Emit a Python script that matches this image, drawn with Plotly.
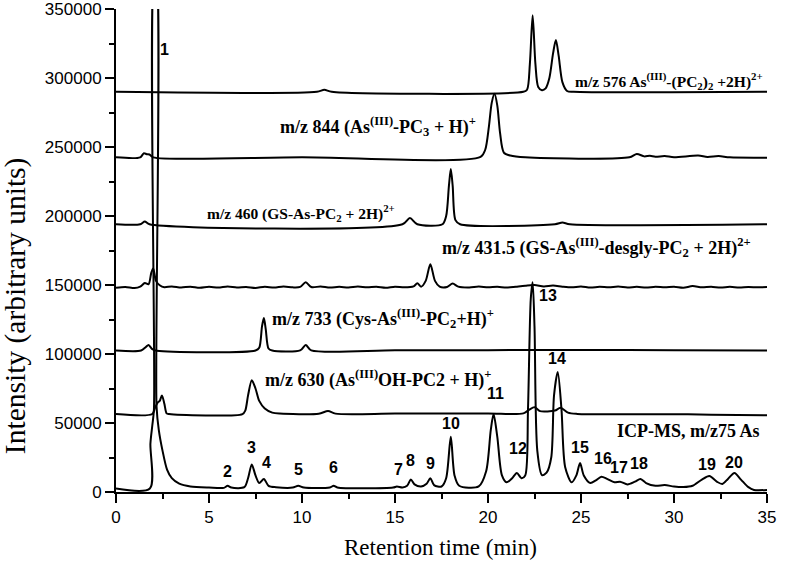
import plotly.graph_objects as go

# retention time (min) / intensity pairs
t_576 = [0, 10.8, 11.2, 11.6, 21.9, 22.1, 22.25, 22.4, 22.55, 22.7, 22.9, 23.1, 23.3, 23.5, 23.65, 23.8, 24.0, 24.25, 24.6, 35]
i_576 = [290000, 290000, 291500, 290000, 290000, 291500, 310000, 345500, 310000, 293500, 291200, 292500, 300000, 318000, 327500, 316000, 297000, 290600, 290000, 290000]

t_844 = [0, 1.3, 1.5, 1.65, 1.8, 2.0, 10.0, 19.6, 19.85, 20.05, 20.2, 20.35, 20.5, 20.65, 20.85, 21.2, 22.0, 27.6, 28.0, 28.4, 28.7, 29.0, 29.5, 30.0, 31.3, 31.8, 32.4, 33.0, 35]
i_844 = [242500, 242500, 245500, 244800, 244600, 242500, 242500, 242800, 248000, 265000, 282000, 288500, 280000, 260000, 246000, 243800, 242500, 242500, 245000, 243200, 243600, 243000, 243400, 242600, 243800, 242800, 243400, 242500, 242300]

t_460 = [0, 1.3, 1.55, 1.8, 15.4, 15.8, 16.2, 17.55, 17.75, 17.9, 18.0, 18.1, 18.25, 18.5, 23.6, 24.0, 24.4, 35]
i_460 = [194000, 194000, 196000, 194000, 194000, 198500, 194000, 194000, 200000, 222000, 234000, 222000, 197000, 194000, 194000, 195200, 194000, 194000]

t_431 = [0, 0.5, 1.0, 1.3, 1.55, 1.75, 1.9, 2.0, 2.15, 2.35, 2.6, 3.0, 3.5, 4.0, 4.5, 5.0, 5.5, 6.0, 6.5, 7.0, 7.5, 8.0, 8.5, 9.0, 9.5, 9.9,
         10.2, 10.5, 11.0, 11.5, 12.0, 12.5, 13.0, 13.5, 14.0, 14.5, 15.0, 15.5, 16.0, 16.2, 16.4, 16.65, 16.9, 17.15, 17.4, 17.8, 18.1, 18.4,
         19.0, 19.5, 20.0, 20.5, 21.0, 21.5, 22.0, 22.5, 23.0, 23.5, 24.0, 24.5, 25.0, 25.5, 26.0, 26.5, 27.0, 27.5, 28.0, 28.5, 29.0, 29.5,
         30.0, 30.5, 31.0, 31.5, 32.0, 32.5, 33.0, 33.5, 34.0, 34.5, 35]
i_431 = [148000, 148600, 147800, 148800, 151400, 150500, 159000, 162000, 153000, 149800, 148400, 149000, 148200, 148800, 148000, 148700, 148100, 148900,
         148200, 148600, 147900, 148700, 148100, 148900, 148300, 148600, 152000, 148500, 148900, 148100, 148700, 148200, 148900, 148300, 148700,
         148000, 148800, 148300, 149000, 151200, 148800, 153000, 165000, 153000, 148800, 148600, 151000, 148800, 148200, 148900, 148300, 148700,
         148100, 148800, 149500, 150000, 149000, 149600, 148800, 148300, 148900, 148100, 148700, 148300, 148900, 148200, 148700, 148100, 148800,
         148300, 148700, 148000, 149200, 148300, 148800, 148100, 148700, 148200, 148600, 148300, 148500]

t_733 = [0, 1.35, 1.6, 1.75, 1.95, 2.2, 7.5, 7.7, 7.85, 7.95, 8.05, 8.2, 8.4, 9.9, 10.2, 10.5, 15.0, 20.0, 25.0, 30.0, 35]
i_733 = [102500, 102500, 105000, 106500, 103500, 102300, 102500, 104500, 120000, 126000, 118000, 104000, 102500, 102600, 106500, 102600, 102700, 102800, 102900, 102700, 102600]

t_630 = [0, 1.95, 2.1, 2.25, 2.35, 2.47, 2.6, 2.72, 2.85, 6.8, 6.95, 7.1, 7.3, 7.5, 7.7, 8.0, 8.4, 8.8, 10.9, 11.4, 11.8, 15.0, 20.0, 21.9,
         22.2, 22.5, 22.8, 23.2, 23.6, 23.9, 24.3, 24.8, 30.0, 32.0, 35]
i_630 = [56500, 56500, 61000, 65000, 66000, 70000, 64000, 57000, 56500, 56500, 59000, 70000, 81000, 75000, 66000, 60500, 57500, 56800, 56700, 58700, 56800, 56800, 56900, 57000,
         59500, 61500, 58600, 58400, 59000, 61000, 57500, 56600, 56400, 56000, 55600]

t_icp = [0, 1.82, 1.85, 1.95, 2.04, 2.07, 2.15, 2.18, 2.3, 2.5, 2.75, 3.0, 3.4, 4.0, 5.0, 5.8, 6.0, 6.2, 6.9, 7.1, 7.3, 7.5, 7.7, 7.95, 8.2, 8.6,
         9.5, 9.8, 10.1, 11.5, 11.7, 11.9, 14.9, 15.1, 15.4, 15.65, 15.85, 16.05, 16.4, 16.7, 16.9, 17.1, 17.5, 17.75, 18.0, 18.2, 18.45, 19.5,
         19.9, 20.15, 20.3, 20.5, 20.75, 21.0, 21.3, 21.55, 21.8, 22.0, 22.15, 22.3, 22.4, 22.5, 22.65, 22.9, 23.15, 23.4, 23.55, 23.75, 23.95,
         24.15, 24.5, 24.75, 24.95, 25.15, 25.5, 25.8, 26.1, 26.4, 26.8, 27.1, 27.5, 27.9, 28.2, 28.5, 29.0, 29.5, 30.0, 30.5, 31.0, 31.5, 31.9,
         32.3, 32.6, 32.9, 33.25, 33.6, 34.0, 34.3, 35]
i_icp = [2500, 2500, 35000, 48000, 60000, 380000, 380000, 62000, 45000, 30000, 16000, 10000, 6000, 4000, 3200, 3000, 4500, 3200, 3500, 10000, 20000, 12000, 6500, 9500, 4500, 3500,
         3200, 4500, 3200, 3300, 4500, 3300, 3200, 4000, 3300, 4500, 9000, 5500, 4000, 6000, 10000, 5000, 4000, 10000, 40000, 12000, 4500, 4000,
         15000, 45000, 56500, 40000, 12000, 7000, 10000, 13800, 10000, 12000, 60000, 140000, 152000, 120000, 30000, 12300, 14000, 25000, 70000, 87000, 60000,
         18000, 7000, 12000, 21000, 12000, 6500, 8500, 11000, 9500, 7000, 7500, 5500, 7500, 9400, 6500, 4500, 5000, 4000, 3600, 4500, 9000, 11600,
         7500, 5800, 9500, 13800, 9000, 3500, 1500, 1500]

series = [(t_576, i_576), (t_844, i_844), (t_460, i_460), (t_431, i_431), (t_733, i_733), (t_630, i_630), (t_icp, i_icp)]

trace_names = [
    "m/z 576 As<sup>(III)</sup>-(PC<sub>2</sub>)<sub>2</sub> +2H)<sup>2+</sup>",
    "m/z 844 (As<sup>(III)</sup>-PC<sub>3</sub> + H)<sup>+</sup>",
    "m/z 460 (GS-As-PC<sub>2</sub> + 2H)<sup>2+</sup>",
    "m/z 431.5 (GS-As<sup>(III)</sup>-desgly-PC<sub>2</sub> + 2H)<sup>2+</sup>",
    "m/z 733 (Cys-As<sup>(III)</sup>-PC<sub>2</sub>+H)<sup>+</sup>",
    "m/z 630 (As<sup>(III)</sup>OH-PC2 + H)<sup>+</sup>",
    "ICP-MS, m/z75 As",
]
# label anchor (x, text centre, side of the anchor) in data units
name_pos = [(24.57, 297800, "left"), (8.71, 264500, "left"), (15.1, 202200, "right"), (17.42, 177500, "left"),
            (8.28, 125500, "left"), (7.9, 81900, "left"), (26.83, 44200, "left")]
name_size = [15.5, 18, 15.5, 18, 18, 18, 18]

peak_labels = [str(n) for n in range(1, 21)]
peak_pos = [(2.63, 321000), (5.97, 15200), (7.3, 31900), (8.1, 21700), (9.8, 16000), (11.7, 18000), (15.2, 16000), (15.85, 22500),
            (16.9, 20300), (18.0, 50000), (20.4, 71700), (21.6, 31200), (23.2, 142700), (23.7, 97000), (24.95, 32600), (26.2, 24600),
            (27.05, 17400), (28.1, 21000), (31.8, 19600), (33.2, 21700)]

fig = go.Figure()
for t, i in series:
    fig.add_trace(go.Scatter(x=t, y=i, mode="lines", line=dict(color="black", width=2, shape="spline", smoothing=0.8),
                             showlegend=False))

for name, (x, y, side), size in zip(trace_names, name_pos, name_size):
    fig.add_annotation(x=x, y=y, text=name, showarrow=False, xanchor=side, yanchor="middle",
                       font=dict(family="Liberation Serif", size=size, color="black", weight="bold"))

for lab, (x, y) in zip(peak_labels, peak_pos):
    fig.add_annotation(x=x, y=y, text=lab, showarrow=False,
                       font=dict(family="Liberation Sans", size=16, color="black", weight="bold"))

# axis titles placed by hand so the margins stay fixed
fig.add_annotation(xref="paper", yref="paper", x=0.499, y=-0.114, text="Retention time (min)", showarrow=False,
                   xanchor="center", yanchor="middle",
                   font=dict(family="Liberation Serif", size=23, color="black"))
fig.add_annotation(xref="paper", yref="paper", x=-0.155, y=0.385, text="Intensity (arbitrary units)", showarrow=False,
                   xanchor="center", yanchor="middle", textangle=-90,
                   font=dict(family="Liberation Serif", size=29.5, color="black"))

axis_common = dict(showline=True, linecolor="black", linewidth=2, ticks="outside", ticklen=9, tickwidth=1.5,
                   tickcolor="black", showgrid=False, zeroline=False, mirror=False, automargin=False,
                   ticklabeloverflow="allow",
                   tickfont=dict(family="Liberation Sans", size=17, color="black"))

fig.update_xaxes(range=[0, 35], dtick=5, tick0=0,
                 minor=dict(ticks="outside", ticklen=5, dtick=2.5, tickcolor="black", tickwidth=1.5),
                 **axis_common)
fig.update_yaxes(range=[0, 350000], dtick=50000, tick0=0, tickformat="d",
                 minor=dict(ticks="outside", ticklen=5, dtick=25000, tickcolor="black", tickwidth=1.5),
                 **axis_common)

fig.update_layout(width=785, height=568, margin=dict(l=116, r=18, t=9, b=76),
                  plot_bgcolor="white", paper_bgcolor="white")

# drop the browser's default body margin so the figure sits at the page corner
fig.write_html("out.html", config={"displayModeBar": False},
               post_script="document.body.style.margin='0px';")
